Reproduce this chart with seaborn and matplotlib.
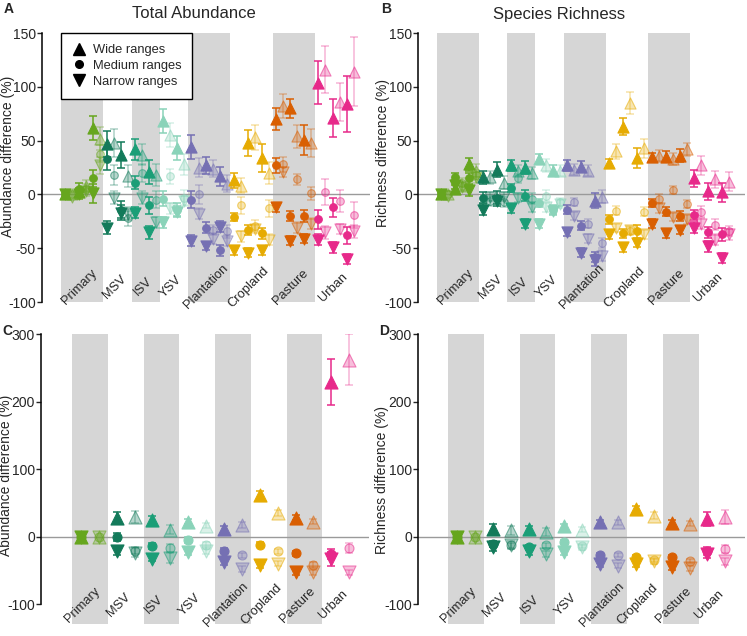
import matplotlib
matplotlib.use("Agg")
import matplotlib.pyplot as plt
from matplotlib.colors import to_rgba
from matplotlib.lines import Line2D
import numpy as np
import pandas as pd
import seaborn as sns

########################
## 1. Data
########################

land_uses = ["Primary", "MSV", "ISV", "YSV", "Plantation", "Cropland", "Pasture", "Urban"]
land_colors = ["#66a61e", "#137a5a", "#1b9e77", "#8ad3b9",
               "#7570b3", "#e6ab02", "#d95f02", "#e7298a"]
range_names = ["Wide ranges", "Medium ranges", "Narrow ranges"]

# columns per land use (filled / faded alternate)
cols_ab = [6, 4, 4, 4, 6, 6, 6, 6]
cols_cd = [2, 2, 2, 2, 2, 2, 2, 2]

# A: total abundance, by land use and intensity
a_wide = [0, 0, 2, 8, 62, 52,
          47, 48, 37, 17,
          42, 37, 21, 18,
          68, 55, 43, 28,
          44, 25, 27, 24, 17, 10,
          13, 8, 48, 53, 34, 20,
          70, 82, 80, 54, 51, 48,
          104, 116, 71, 86, 84, 114]
a_wide_err = [0, 0, 4, 5, 11, 11,
              12, 13, 12, 10,
              10, 10, 11, 10,
              11, 11, 11, 10,
              11, 9, 8, 8, 9, 8,
              7, 7, 12, 12, 13, 10,
              10, 11, 9, 11, 14, 13,
              20, 22, 18, 18, 26, 32]
a_med = [0, 0, 5, 5, 15, 38,
         33, 18, -14, -22,
         11, 20, -10, -5,
         -4, 17, -14, -3,
         -5, 0, -31, -33, -52, -34,
         -21, -10, -33, -29, -36, -13,
         27, 28, -20, 14, -20, 1,
         -23, 2, -12, -6, -38, -19]
a_med_err = [0, 0, 6, 5, 8, 8,
             10, 9, 8, 7,
             6, 8, 8, 8,
             7, 7, 6, 7,
             8, 9, 5, 5, 5, 6,
             4, 8, 5, 5, 5, 8,
             7, 7, 5, 5, 6, 6,
             9, 12, 9, 10, 8, 12]
a_nar = [0, -2, 0, 3, 1, 27,
         -31, -3, -17, -18,
         -17, -3, -35, -26,
         -26, -13, -16, -6,
         -43, -18, -48, -41, -30, -43,
         -52, -39, -54, -32, -52, -42,
         -12, 21, -43, -31, -41, -27,
         -42, -35, -49, -32, -60, -34]
a_nar_err = [0, 0, 4, 4, 9, 8,
             6, 6, 7, 6,
             5, 6, 6, 5,
             5, 5, 5, 5,
             5, 5, 4, 5, 5, 5,
             4, 5, 4, 4, 4, 5,
             4, 5, 4, 5, 4, 5,
             5, 6, 5, 5, 5, 6]

# B: species richness, by land use and intensity
b_wide = [0, 0, 5, 8, 28, 22,
          16, 16, 23, 11,
          27, 22, 25, 20,
          33, 27, 22, 22,
          27, 23, 26, 22, -6, -2,
          29, 40, 63, 85, 34, 43,
          35, 36, 35, 33, 36, 42,
          15, 27, 3, 14, 2, 12]
b_wide_err = [0, 0, 4, 4, 6, 6,
              6, 6, 7, 6,
              5, 5, 6, 6,
              5, 6, 5, 5,
              5, 5, 5, 5, 7, 6,
              4, 7, 8, 10, 9, 9,
              4, 5, 5, 6, 6, 6,
              8, 9, 8, 8, 9, 9]
b_med = [0, 0, 16, 11, 15, 18,
         -3, -6, -3, -7,
         6, 15, -1, -4,
         -8, -1, -14, -7,
         -14, -7, -29, -27, -58, -45,
         -23, -15, -36, -34, -34, -16,
         -8, -4, -16, 4, -20, -9,
         -19, -16, -35, -28, -37, -34]
b_med_err = [0, 0, 4, 4, 5, 5,
             5, 5, 6, 5,
             4, 4, 5, 5,
             4, 5, 4, 4,
             4, 4, 4, 4, 5, 5,
             4, 4, 4, 4, 6, 4,
             4, 4, 4, 4, 5, 4,
             5, 5, 5, 5, 6, 5]
b_nar = [0, -1, 9, 7, 4, 16,
         -14, -2, -6, -2,
         -13, -3, -27, -12,
         -27, -12, -15, -9,
         -35, -20, -54, -41, -61, -57,
         -37, -31, -49, -33, -45, -37,
         -27, -13, -36, -21, -33, -23,
         -31, -27, -48, -42, -59, -37]
b_nar_err = [0, 0, 4, 4, 5, 5,
             5, 4, 5, 4,
             4, 4, 4, 4,
             4, 4, 4, 4,
             4, 4, 4, 4, 5, 5,
             4, 4, 4, 4, 4, 4,
             4, 4, 4, 4, 4, 4,
             5, 5, 5, 5, 5, 5]

# C: total abundance, by land use only
c_wide = [0, 0, 27, 29, 24, 10, 22, 16, 11, 17, 61, 35, 28, 22, 229, 262]
c_wide_err = [0, 0, 9, 9, 7, 7, 4, 4, 4, 4, 6, 5, 4, 4, 34, 38]
c_med = [0, 0, -1, -21, -14, -17, -5, -13, -21, -28, -12, -22, -25, -42, -26, -17]
c_med_err = [0, 0, 6, 5, 4, 6, 4, 5, 4, 4, 4, 4, 4, 4, 7, 8]
c_nar = [0, 0, -22, -24, -33, -32, -23, -21, -38, -48, -42, -40, -53, -53, -33, -53]
c_nar_err = [0, 0, 6, 7, 4, 7, 4, 5, 4, 4, 4, 4, 4, 4, 10, 4]

# D: species richness, by land use only
d_wide = [0, 0, 11, 9, 11, 7, 15, 10, 21, 21, 41, 31, 20, 19, 26, 29]
d_wide_err = [0, 0, 7, 7, 4, 6, 4, 4, 4, 4, 4, 5, 4, 4, 10, 10]
d_med = [0, 0, -11, -13, -16, -13, -8, -14, -27, -28, -31, -35, -31, -36, -21, -18]
d_med_err = [0, 0, 4, 4, 4, 4, 3, 3, 3, 3, 3, 3, 3, 3, 6, 6]
d_nar = [0, 0, -16, -12, -22, -26, -23, -16, -41, -43, -40, -37, -45, -47, -26, -37]
d_nar_err = [0, 0, 6, 6, 5, 5, 4, 4, 4, 4, 5, 4, 4, 4, 6, 5]


def build(sizes, wide, wide_err, med, med_err, nar, nar_err):
    pos = np.arange(sum(sizes))
    lu = np.repeat(land_uses, sizes)
    frames = []
    for rname, v, e in zip(range_names, [wide, med, nar], [wide_err, med_err, nar_err]):
        frames.append(pd.DataFrame({"pos": pos, "land_use": lu, "faded": pos % 2 == 1,
                                    "range": rname, "value": v, "err": e}))
    return pd.concat(frames, ignore_index=True)


df_a = build(cols_ab, a_wide, a_wide_err, a_med, a_med_err, a_nar, a_nar_err)
df_b = build(cols_ab, b_wide, b_wide_err, b_med, b_med_err, b_nar, b_nar_err)
df_c = build(cols_cd, c_wide, c_wide_err, c_med, c_med_err, c_nar, c_nar_err)
df_d = build(cols_cd, d_wide, d_wide_err, d_med, d_med_err, d_nar, d_nar_err)

########################
## 2. Plot
########################

sns.set_style("white")
plt.rcParams["font.family"] = ["Liberation Sans", "DejaVu Sans"]
plt.rcParams["axes.unicode_minus"] = False

markers = {"Wide ranges": "^", "Medium ranges": "o", "Narrow ranges": "v"}


def draw_panel(ax, df, sizes, ylim, yticks, ylabel, big, band_bottom, label_y, xlim):
    ax.set_xlim(*xlim)
    ax.set_ylim(*ylim)

    # grey bands behind every other land use
    edges = np.concatenate([[0], np.cumsum(sizes)])
    for i in range(len(sizes)):
        if i % 2 == 0:
            ax.axvspan(edges[i] - 0.5, edges[i + 1] - 0.5, ymin=band_bottom, ymax=1,
                       color="#d6d6d6", lw=0, zorder=0, clip_on=False)
        center = (edges[i] + edges[i + 1] - 1) / 2
        ax.text(center - 0.4, label_y, land_uses[i], rotation=45, ha="center",
                va="center", fontsize=9.3, clip_on=False, zorder=6)

    ax.axhline(0, color="#9a9a9a", lw=1, zorder=1)

    msize = {"Wide ranges": 88 if big else 64,
             "Medium ranges": 42 if big else 30,
             "Narrow ranges": 88 if big else 64}

    for faded in [True, False]:
        for rname in range_names:
            for lu, col in zip(land_uses, land_colors):
                sub = df[(df["faded"] == faded) & (df["range"] == rname) & (df["land_use"] == lu)]
                nz = sub[sub["err"] > 0]
                if len(nz):
                    ax.errorbar(nz["pos"], nz["value"], yerr=nz["err"], fmt="none",
                                ecolor=to_rgba(col, 0.35 if faded else 1), elinewidth=1.1,
                                capsize=2.8, capthick=1.1, zorder=2 if faded else 4)
                sns.scatterplot(data=sub, x="pos", y="value", marker=markers[rname],
                                s=msize[rname], facecolor=to_rgba(col, 0.3 if faded else 1),
                                edgecolor=to_rgba(col, 0.55 if faded else 1), linewidth=0.8,
                                zorder=3 if faded else 5, legend=False, ax=ax)

    ax.set_yticks(yticks)
    ax.set_xticks([])
    ax.set_xlabel("")
    ax.set_ylabel(ylabel, fontsize=10)
    ax.tick_params(axis="y", length=3.5, width=1, labelsize=10, pad=1,
                   direction="out", left=True)
    for side in ["top", "right", "bottom"]:
        ax.spines[side].set_visible(False)
    ax.spines["left"].set_linewidth(1.1)
    ax.spines["left"].set_color("black")


fig = plt.figure(figsize=(7.47, 6.36), dpi=100)
ax_a = fig.add_axes([0.0562, 0.525, 0.439, 0.423])
ax_b = fig.add_axes([0.5596, 0.525, 0.4378, 0.423])
ax_c = fig.add_axes([0.0549, 0.0503, 0.439, 0.4245])
ax_d = fig.add_axes([0.5596, 0.0503, 0.4378, 0.4245])

draw_panel(ax_a, df_a, cols_ab, (-100, 150), [-100, -50, 0, 50, 100, 150],
           "Abundance difference (%)", False, 0, -86, (-3.2, 43.3))
draw_panel(ax_b, df_b, cols_ab, (-100, 150), [-100, -50, 0, 50, 100, 150],
           "Richness difference (%)", False, 0, -86, (-3.2, 43.3))
draw_panel(ax_c, df_c, cols_cd, (-100, 300), [-100, 0, 100, 200, 300],
           "Abundance difference (%)", True, -0.074, -101, (-2.23, 16.1))
draw_panel(ax_d, df_d, cols_cd, (-100, 300), [-100, 0, 100, 200, 300],
           "Richness difference (%)", True, -0.074, -101, (-2.18, 16.1))

ax_a.yaxis.set_label_coords(-0.083, 0.54)
ax_b.yaxis.set_label_coords(-0.085, 0.555)
ax_c.yaxis.set_label_coords(-0.086, 0.478)
ax_d.yaxis.set_label_coords(-0.088, 0.46)

# legend for range-size classes
handles = [Line2D([], [], marker="^", color="black", linestyle="none", markersize=8.5),
           Line2D([], [], marker="o", color="black", linestyle="none", markersize=5.5),
           Line2D([], [], marker="v", color="black", linestyle="none", markersize=8.5)]
leg = ax_a.legend(handles, range_names, loc="upper left", bbox_to_anchor=(0.058, 1.0),
                  fontsize=9.3, frameon=True, fancybox=False, framealpha=1,
                  edgecolor="black", borderaxespad=0, handletextpad=0.5,
                  labelspacing=0.3, borderpad=0.85, handlelength=1.1)
leg.get_frame().set_linewidth(1.0)
leg.set_zorder(10)

fig.text(194 / 747, 1 - 14 / 636, "Total Abundance", ha="center", va="center", fontsize=12)
fig.text(559 / 747, 1 - 14 / 636, "Species Richness", ha="center", va="center", fontsize=12)
for letter, x, y in [("A", 4, 9), ("B", 381, 9), ("C", 2, 331), ("D", 379, 331)]:
    fig.text(x / 747, 1 - y / 636, letter, ha="left", va="center", fontsize=10, weight="bold")

plt.savefig("out.png", dpi=100)
plt.close()
